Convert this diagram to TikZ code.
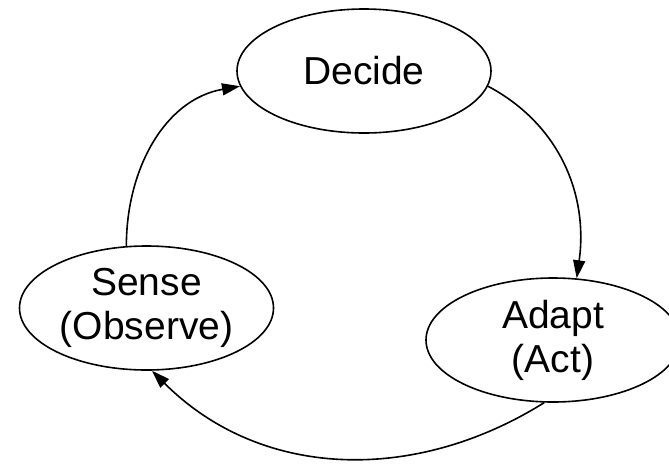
\documentclass[tikz,border=0pt]{standalone}
\usepackage{fontspec}
\setmainfont{Liberation Sans}
\usetikzlibrary{arrows.meta,shapes.geometric}
\begin{document}
\begin{tikzpicture}[x=0.5pt,y=0.5pt,
  state/.style={ellipse,draw,line width=0.8pt,minimum width=127pt,minimum height=62pt,inner sep=0pt,align=center,font=\fontsize{19.5}{22}\selectfont},
  flow/.style={line width=0.8pt,-{Triangle[length=9pt,width=6pt]}}]
\useasboundingbox (0,0) rectangle (669,463);
\node[state] (decide) at (364,392) {Decide};
\node[state] (sense) at (146.5,155) {Sense\\(Observe)};
\node[state] (adapt) at (553,123) {Adapt\\(Act)};
\draw[flow] (sense.108) to[out=90,in=190] (decide.187);
\draw[flow] (decide.353) to[out=-28,in=82] (adapt.69);
\draw[flow] (adapt.262) to[out=212,in=-45] (sense.275);
\end{tikzpicture}
\end{document}
